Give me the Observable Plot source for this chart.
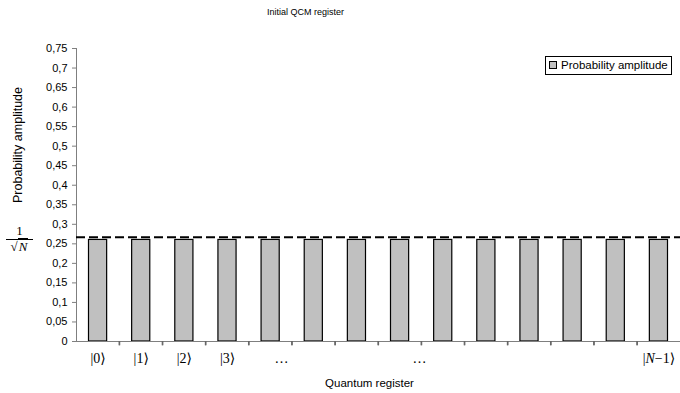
<!DOCTYPE html>
<html>
<head>
<meta charset="utf-8">
<script src="https://cdn.jsdelivr.net/npm/d3@7"></script>
<script src="https://cdn.jsdelivr.net/npm/@observablehq/plot@0.6"></script>
<style>
  body { margin: 0; background: #fff; }
  #wrap { position: relative; width: 680px; height: 393px; font-family: "Liberation Sans", Arial, sans-serif; }
  #wrap svg g[aria-label^="y-axis"] line, #wrap svg g[aria-label^="y-axis"] path { stroke: #7f7f7f; }
  .legend { position: absolute; left: 545px; top: 56px; width: 125px; height: 17px; border: 1px solid #000; background: #fff;
    font-size: 11.5px; line-height: 17px; white-space: nowrap; }
  .legend .sw { display: inline-block; width: 6px; height: 6px; background: #c0c0c0; border: 1px solid #000; margin: 0 4px 0 3px; vertical-align: 0px; }
  .frac { position: absolute; left: 6px; top: 224px; width: 27px; text-align: center; font-family: "Liberation Serif", "DejaVu Serif", serif; font-size: 13px; line-height: 14px; }
  .frac .num { border-bottom: 1px solid #000; padding-bottom: 1px; }
  .frac .den i { border-top: 1px solid #000; padding: 0 1px; }
</style>
</head>
<body>
<div id="wrap">
  <div class="legend"><span class="sw"></span>Probability amplitude</div>
  <div class="frac"><div class="num">1</div><div class="den">√<i>N</i></div></div>
</div>
<script>
// ---- data ----
const title = "Initial QCM register";
const yTitle = "Probability amplitude";
const xTitle = "Quantum register";
const states = [0, 1, 2, 3, 4, 5, 6, 7, 8, 9, 10, 11, 12, 13];
const amplitudes = [0.26, 0.26, 0.26, 0.26, 0.26, 0.26, 0.26, 0.26, 0.26, 0.26, 0.26, 0.26, 0.26, 0.26];
const threshold = 0.267; // 1/sqrt(N)
const yTicks = [0, 0.05, 0.1, 0.15, 0.2, 0.25, 0.3, 0.35, 0.4, 0.45, 0.5, 0.55, 0.6, 0.65, 0.7, 0.75];
const xTickBounds = [1, 2, 3, 4, 5, 6, 7, 8, 9, 10, 11, 12, 13];
const xLabels = ["|0⟩", "|1⟩", "|2⟩", "|3⟩", "…", "…", "|N−1⟩"];
const xLabelPos = [0.5, 1.5, 2.5, 3.5, 4.75, 7.95, 13.5];

const bars = states.map((s, k) => ({state: s, value: amplitudes[k]}));
const labelData = xLabels.map((t, k) => ({text: t, pos: xLabelPos[k]}));
const fmt = d => d3.format(".2~f")(d).replace(".", ",");
const tickLen = 0.011; // ≈5-6px below the baseline

const chart = Plot.plot({
  width: 680,
  height: 393,
  marginLeft: 76,
  marginRight: 0,
  marginTop: 48,
  marginBottom: 52,
  style: {fontFamily: "'Liberation Sans', Arial, sans-serif", fontSize: "11px", color: "#000", background: "#fff"},
  x: {domain: [0, 14], axis: null},
  y: {domain: [0, 0.75], ticks: yTicks, tickFormat: fmt, tickSize: 4, tickPadding: 5, label: null},
  marks: [
    Plot.rectY(bars, {x1: "state", x2: d => d.state + 1, y: "value", insetLeft: 12.5, insetRight: 12.5,
      fill: "#c0c0c0", stroke: "#000", strokeWidth: 1.2}),
    Plot.ruleX([0], {y1: 0, y2: 0.75, stroke: "#7f7f7f"}),
    Plot.ruleY([0], {stroke: "#7f7f7f"}),
    Plot.rect(xTickBounds, {x1: d => d, x2: d => d, y1: 0, y2: -tickLen, insetLeft: -0.6, insetRight: -0.6, fill: "#666"}),
    Plot.ruleX(xTickBounds, {x: d => d, y1: 0, y2: -tickLen, stroke: "#666", strokeWidth: 1.2}),
    Plot.ruleY([threshold], {stroke: "#000", strokeWidth: 2, strokeDasharray: "9,4"}),
    Plot.text(labelData, {x: "pos", y: 0, dy: 17, text: "text", fontFamily: "'Liberation Serif', 'DejaVu Serif', serif", fontSize: 14}),
    Plot.text([xTitle], {text: d => d, frameAnchor: "bottom", lineAnchor: "middle", dy: 42, dx: -9, fontSize: 11.5}),
    Plot.text([yTitle], {text: d => d, frameAnchor: "left", textAnchor: "middle", lineAnchor: "middle", rotate: -90, dx: -59, dy: -50, fontSize: 12.5}),
    Plot.text([title], {text: d => d, frameAnchor: "top", lineAnchor: "middle", dy: -36, dx: -73, fontSize: 9})
  ]
});
document.getElementById("wrap").prepend(chart);
chart.style.position = "absolute";
chart.style.left = "0";
chart.style.top = "0";
// italic N in the last label
chart.querySelectorAll("text").forEach(t => {
  if (t.textContent === "|N−1⟩") {
    t.textContent = "";
    const parts = [["|", null], ["N", "italic"], ["−1⟩", null]];
    parts.forEach(([s, st]) => {
      const ts = document.createElementNS("http://www.w3.org/2000/svg", "tspan");
      ts.textContent = s;
      if (st) ts.setAttribute("font-style", st);
      t.appendChild(ts);
    });
  }
});
</script>
</body>
</html>
